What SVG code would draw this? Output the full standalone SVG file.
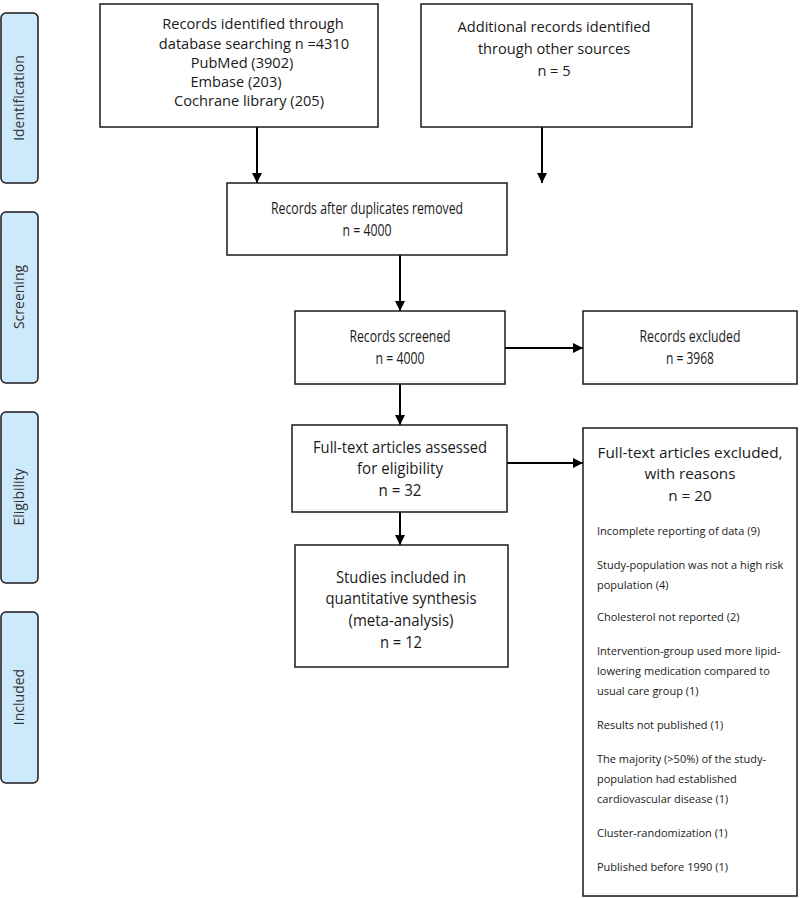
<svg xmlns="http://www.w3.org/2000/svg" width="800" height="898" viewBox="0 0 800 898">
<defs>
<marker id="ah" viewBox="0 0 10 10" refX="10" refY="5" markerWidth="5" markerHeight="5" orient="auto" markerUnits="strokeWidth">
<path d="M0,0 L10,5 L0,10 z" fill="#000"/>
</marker>
<style>
.box{fill:#fff;stroke:#1a1a1a;stroke-width:1.5}
.side{fill:#cdeafc;stroke:#1a1a1a;stroke-width:1.5}
.sl{font-family:"Open Sans","DejaVu Sans",sans-serif;font-size:14px;fill:#333;text-anchor:middle}
.t{font-family:"Open Sans","DejaVu Sans",sans-serif;font-size:14.6px;fill:#1a1a1a;text-anchor:middle}
.h{font-family:"Open Sans","DejaVu Sans",sans-serif;font-size:15.3px;fill:#1a1a1a;text-anchor:middle}
.c{font-family:"Open Sans","DejaVu Sans",sans-serif;font-size:16px;fill:#1a1a1a;text-anchor:middle}
.l{font-family:"Open Sans","DejaVu Sans",sans-serif;font-size:11px;fill:#1a1a1a}
.cn{fill:none;stroke:#000;stroke-width:2;marker-end:url(#ah)}
</style>
</defs>
<rect width="800" height="898" fill="#fff"/>

<g id="side-identification"><rect class="side" x="1" y="13" width="37" height="170" rx="5"/><text class="sl" transform="translate(24,98) rotate(-90)">Identification</text></g>
<g id="side-screening"><rect class="side" x="1" y="212" width="37" height="171" rx="5"/><text class="sl" transform="translate(24,297) rotate(-90)">Screening</text></g>
<g id="side-eligibility"><rect class="side" x="1" y="412" width="37" height="171" rx="5"/><text class="sl" transform="translate(24,497) rotate(-90)">Eligibility</text></g>
<g id="side-included"><rect class="side" x="1" y="612" width="37" height="171" rx="5"/><text class="sl" transform="translate(24,697) rotate(-90)">Included</text></g>

<g id="connectors">
<line class="cn" x1="257" y1="127" x2="257" y2="183"/>
<line class="cn" x1="542" y1="127" x2="542" y2="183"/>
<line class="cn" x1="400" y1="255" x2="400" y2="311"/>
<line class="cn" x1="505" y1="348" x2="583" y2="348"/>
<line class="cn" x1="400" y1="384" x2="400" y2="425"/>
<line class="cn" x1="507" y1="463" x2="583" y2="463"/>
<line class="cn" x1="400" y1="512" x2="400" y2="545"/>
</g>

<g id="node-db">
<rect class="box" x="100" y="4" width="278" height="123"/>
<text class="t" x="253" y="29">Records identified through</text>
<text class="t" x="254" y="49">database searching n =4310</text>
<text class="t" x="242" y="68">PubMed (3902)</text>
<text class="t" x="236" y="87">Embase (203)</text>
<text class="t" x="249" y="106">Cochrane library (205)</text>
</g>

<g id="node-other">
<rect class="box" x="421" y="4" width="271" height="123"/>
<text class="t" x="554" y="32">Additional records identified</text>
<text class="t" x="554" y="54">through other sources</text>
<text class="t" x="554" y="76">n = 5</text>
</g>

<g id="node-dedup">
<rect class="box" x="227" y="183" width="280" height="72"/>
<text class="c" x="367" y="214" textLength="192" lengthAdjust="spacingAndGlyphs">Records after duplicates removed</text>
<text class="c" x="367" y="236" textLength="49" lengthAdjust="spacingAndGlyphs">n = 4000</text>
</g>

<g id="node-screened">
<rect class="box" x="295" y="311" width="210" height="73"/>
<text class="c" x="400" y="342" textLength="101" lengthAdjust="spacingAndGlyphs">Records screened</text>
<text class="c" x="400" y="364" textLength="49" lengthAdjust="spacingAndGlyphs">n = 4000</text>
</g>

<g id="node-excluded">
<rect class="box" x="583" y="311" width="214" height="73"/>
<text class="c" x="690" y="342" textLength="101" lengthAdjust="spacingAndGlyphs">Records excluded</text>
<text class="c" x="690" y="364" textLength="48" lengthAdjust="spacingAndGlyphs">n = 3968</text>
</g>

<g id="node-fulltext">
<rect class="box" x="292" y="425" width="215" height="87"/>
<text class="c" x="400" y="453" textLength="174" lengthAdjust="spacingAndGlyphs">Full-text articles assessed</text>
<text class="c" x="400" y="474" textLength="86" lengthAdjust="spacingAndGlyphs">for eligibility</text>
<text class="c" x="400" y="496" textLength="43" lengthAdjust="spacingAndGlyphs">n = 32</text>
</g>

<g id="node-included">
<rect class="box" x="295" y="545" width="213" height="122"/>
<text class="c" x="401" y="583" textLength="130" lengthAdjust="spacingAndGlyphs">Studies included in</text>
<text class="c" x="401" y="604" textLength="151" lengthAdjust="spacingAndGlyphs">quantitative synthesis</text>
<text class="c" x="401" y="626" textLength="105" lengthAdjust="spacingAndGlyphs">(meta-analysis)</text>
<text class="c" x="401" y="648" textLength="42" lengthAdjust="spacingAndGlyphs">n = 12</text>
</g>

<g id="node-ftexcluded">
<rect class="box" x="583" y="428" width="214" height="468"/>
<text class="h" x="690" y="458">Full-text articles  excluded,</text>
<text class="h" x="690" y="479">with reasons</text>
<text class="h" x="690" y="501">n = 20</text>
<text class="l" x="597" y="535">Incomplete reporting of data (9)</text>
<text class="l" x="597" y="569">Study-population was not a high risk</text>
<text class="l" x="597" y="589">population (4)</text>
<text class="l" x="597" y="621">Cholesterol not reported (2)</text>
<text class="l" x="597" y="655">Intervention-group used more lipid-</text>
<text class="l" x="597" y="675">lowering medication compared to</text>
<text class="l" x="597" y="695">usual care group (1)</text>
<text class="l" x="597" y="729">Results not published (1)</text>
<text class="l" x="597" y="763">The majority (&gt;50%) of the study-</text>
<text class="l" x="597" y="783">population had established</text>
<text class="l" x="597" y="803">cardiovascular disease (1)</text>
<text class="l" x="597" y="837">Cluster-randomization (1)</text>
<text class="l" x="597" y="871">Published before 1990 (1)</text>
</g>
</svg>
